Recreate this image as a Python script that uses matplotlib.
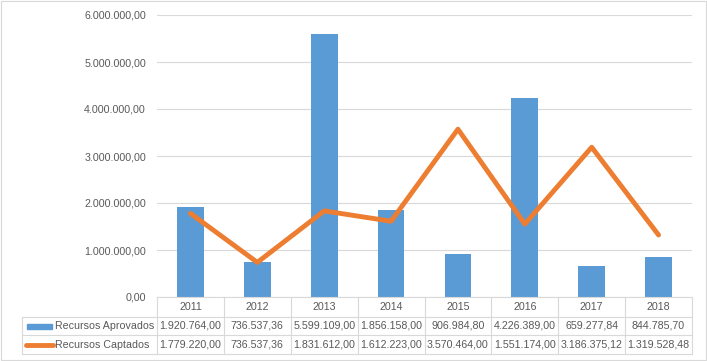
import matplotlib
matplotlib.use('Agg')
import matplotlib.pyplot as plt
import matplotlib.transforms as mtransforms
from matplotlib.patches import Rectangle
from matplotlib.lines import Line2D
import numpy as np

years = ['2011', '2012', '2013', '2014', '2015', '2016', '2017', '2018']
aprovados = [1920764.00, 736537.36, 5599109.00, 1856158.00, 906984.80, 4226389.00, 659277.84, 844785.70]
captados = [1779220.00, 736537.36, 1831612.00, 1612223.00, 3570464.00, 1551174.00, 3186375.12, 1319528.48]
series_names = ['Recursos Aprovados', 'Recursos Captados']
yticks = [0, 1000000, 2000000, 3000000, 4000000, 5000000, 6000000]

BLUE = '#5B9BD5'
ORANGE = '#ED7D31'
TXT = '#595959'
GRID = '#D9D9D9'
FONT = 'Liberation Sans'
FS = 7.7


def fmt(v):
    s = f"{v:,.2f}"
    return s.replace(',', 'X').replace('.', ',').replace('X', '.')


W, H = 707, 361
fig = plt.figure(figsize=(W / 100, H / 100), dpi=100)
plt.rcParams['font.family'] = [FONT, 'DejaVu Sans']

ax = fig.add_axes([157 / W, 1 - 297 / H, (692 - 157) / W, (297 - 15) / H])
x = np.arange(len(years))
ax.bar(x, aprovados, width=0.4, color=BLUE, zorder=2)
ax.plot(x, captados, color=ORANGE, lw=3.5, solid_capstyle='round',
        solid_joinstyle='round', zorder=3)
ax.set_xlim(-0.5, len(years) - 0.5)
ax.set_ylim(0, 6000000)
ax.set_yticks(yticks)
ax.set_yticklabels([fmt(v) for v in yticks], fontsize=FS, color=TXT, family=FONT)
ax.set_xticks([])
ax.tick_params(axis='y', length=0, pad=8)
ax.yaxis.grid(True, color=GRID, lw=0.8)
ax.set_axisbelow(True)
for s in ax.spines.values():
    s.set_visible(False)

# pixel overlay axes for the data table
pax = fig.add_axes([0, 0, 1, 1], zorder=5)
pax.set_xlim(0, W)
pax.set_ylim(H, 0)
pax.axis('off')

bt = mtransforms.blended_transform_factory(ax.transData, pax.transData)

pax.add_patch(Rectangle((0.5, 0.5), W - 1.5, H - 1.5, fill=False, edgecolor=GRID, lw=0.8))

y_top, y_r1, y_r2, y_bot = 297, 317, 335, 354
n = len(years)
# horizontal lines
pax.add_line(Line2D([-0.5, n - 0.5], [y_top, y_top], transform=bt, color=GRID, lw=0.8))
for yy in (y_r1, y_r2, y_bot):
    pax.add_line(Line2D([-0.5, n - 0.5], [yy, yy], transform=bt, color=GRID, lw=0.8))
    pax.add_line(Line2D([22, 157], [yy, yy], color=GRID, lw=0.8))
# vertical lines
for i in range(n + 1):
    pax.add_line(Line2D([i - 0.5, i - 0.5], [y_top, y_bot], transform=bt, color=GRID, lw=0.8))
pax.add_line(Line2D([22, 22], [y_r1, y_bot], color=GRID, lw=0.8))

yc0 = (y_top + y_r1) / 2
yc1 = (y_r1 + y_r2) / 2
yc2 = (y_r2 + y_bot) / 2
for i, yr in enumerate(years):
    pax.text(i, yc0, yr, transform=bt, ha='center', va='center', fontsize=FS, color=TXT, family=FONT)
    pax.text(i, yc1, fmt(aprovados[i]), transform=bt, ha='center', va='center', fontsize=FS, color=TXT, family=FONT)
    pax.text(i, yc2, fmt(captados[i]), transform=bt, ha='center', va='center', fontsize=FS, color=TXT, family=FONT)

# legend keys
pax.add_patch(Rectangle((27, yc1 - 2.5), 25, 5, color=BLUE))
pax.add_line(Line2D([25.5, 53], [yc2, yc2], color=ORANGE, lw=3.5, solid_capstyle='round'))
pax.text(55, yc1, series_names[0], ha='left', va='center', fontsize=FS, color=TXT, family=FONT)
pax.text(55, yc2, series_names[1], ha='left', va='center', fontsize=FS, color=TXT, family=FONT)

fig.savefig('out.png', dpi=100, facecolor='white')
